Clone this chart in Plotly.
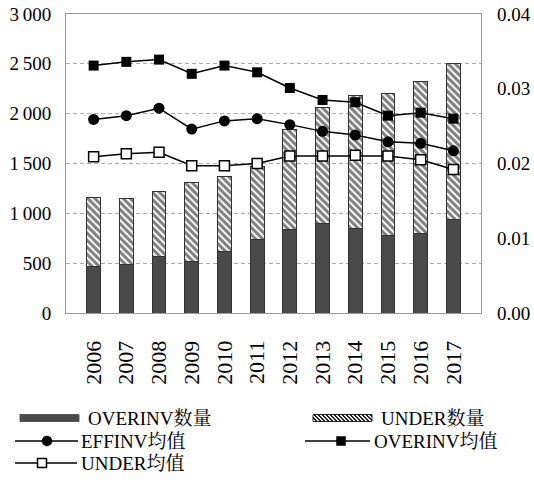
import plotly.graph_objects as go

# Annual counts and means, 2006-2017
years = ["2006", "2007", "2008", "2009", "2010", "2011",
         "2012", "2013", "2014", "2015", "2016", "2017"]
overinv_count = [470, 487, 570, 520, 613, 740, 833, 897, 847, 780, 797, 937]
under_count = [687, 660, 647, 793, 752, 725, 1004, 1160, 1333, 1427, 1530, 1570]
effinv_mean = [0.0259, 0.0264, 0.0274, 0.0246, 0.0257, 0.0260,
               0.0252, 0.0243, 0.0238, 0.0229, 0.0227, 0.0217]
overinv_mean = [0.0331, 0.0336, 0.0339, 0.0320, 0.0331, 0.0322,
                0.0301, 0.0285, 0.0282, 0.0264, 0.0268, 0.0260]
under_mean = [0.0209, 0.0213, 0.0215, 0.0197, 0.0197, 0.0200,
              0.0210, 0.0210, 0.0211, 0.0210, 0.0205, 0.0192]

FONT = "Liberation Serif, Noto Serif CJK SC, Noto Sans CJK SC, serif"
GRID = "#9a9a9a"
DARK = "#4a4a4a"

W, H = 534, 483
ML, MR, MT, MB = 66, 53, 14, 170
PW, PH = W - ML - MR, H - MT - MB


def px(x):
    """Pixel x -> paper x."""
    return (x - ML) / PW


def py(y):
    """Pixel y (from top) -> paper y."""
    return (H - MB - y) / PH


fig = go.Figure()

fig.add_trace(go.Bar(
    x=years, y=overinv_count, name="OVERINV数量",
    width=0.42, marker=dict(color=DARK, line=dict(color="#333", width=1)),
))
fig.add_trace(go.Bar(
    x=years, y=under_count, name="UNDER数量",
    width=0.42,
    marker=dict(color="white", line=dict(color="#333", width=1),
                pattern=dict(shape="\\", fgcolor="black", bgcolor="white",
                             size=5, solidity=0.6)),
))

line_style = dict(color="black", width=1.5)
fig.add_trace(go.Scatter(
    x=years, y=effinv_mean, name="EFFINV均值", yaxis="y2", mode="lines+markers",
    line=line_style, marker=dict(symbol="circle", size=11, color="black"),
))
fig.add_trace(go.Scatter(
    x=years, y=overinv_mean, name="OVERINV均值", yaxis="y2", mode="lines+markers",
    line=line_style, marker=dict(symbol="square", size=10, color="black"),
))
fig.add_trace(go.Scatter(
    x=years, y=under_mean, name="UNDER均值", yaxis="y2", mode="lines+markers",
    line=line_style,
    marker=dict(symbol="square", size=10, color="white",
                line=dict(color="black", width=1.5)),
))

# ---- legend below the chart, two columns ----
shapes = []
annotations = []


def legend_text(x, y, text):
    annotations.append(dict(
        x=px(x), y=py(y), xref="paper", yref="paper", text=text,
        showarrow=False, xanchor="left", yanchor="middle",
        font=dict(family=FONT, size=19, color="black"),
    ))


def bar_swatch(x0, x1, yc, hatched):
    y0, y1 = yc - 3.5, yc + 3.5
    shapes.append(dict(
        type="rect", xref="paper", yref="paper",
        x0=px(x0), x1=px(x1), y0=py(y1), y1=py(y0),
        fillcolor="white" if hatched else DARK,
        line=dict(color="#333" if hatched else "#555", width=1),
    ))
    if hatched:
        step = 4
        xs = x0 - (y1 - y0)
        while xs < x1:
            a0, b0 = xs, y0
            a1, b1 = xs + (y1 - y0), y1
            # clip to the swatch box
            if a0 < x0:
                b0 += x0 - a0
                a0 = x0
            if a1 > x1:
                b1 -= a1 - x1
                a1 = x1
            if a1 > a0:
                shapes.append(dict(
                    type="line", xref="paper", yref="paper",
                    x0=px(a0), y0=py(b0), x1=px(a1), y1=py(b1),
                    line=dict(color="black", width=1.3),
                ))
            xs += step


def line_swatch(x0, x1, xm, yc, kind):
    shapes.append(dict(
        type="line", xref="paper", yref="paper",
        x0=px(x0), x1=px(x1), y0=py(yc), y1=py(yc),
        line=dict(color="black", width=1.5),
    ))
    r = 5 if kind == "circle" else 4.5
    shapes.append(dict(
        type="circle" if kind == "circle" else "rect",
        xref="paper", yref="paper",
        x0=px(xm - r), x1=px(xm + r), y0=py(yc + r), y1=py(yc - r),
        fillcolor="white" if kind == "open" else "black",
        line=dict(color="black", width=1.5 if kind == "open" else 0.5),
    ))


names = [t.name for t in fig.data]
bar_swatch(20, 79, 418, hatched=False)
legend_text(86, 418, names[0])
bar_swatch(313, 372, 418, hatched=True)
legend_text(379, 418, names[1])
line_swatch(15, 78, 47, 441, "circle")
legend_text(79, 441, names[2])
line_swatch(305, 370, 341, 441, "square")
legend_text(372, 441, names[3])
line_swatch(15, 77, 42, 463, "open")
legend_text(79, 463, names[4])

fig.update_layout(
    width=W, height=H,
    margin=dict(l=ML, r=MR, t=MT, b=MB, autoexpand=False),
    paper_bgcolor="white", plot_bgcolor="white",
    font=dict(family=FONT, size=19, color="black"),
    barmode="stack", bargap=0.58,
    separators=".\u2009",
    showlegend=False,
    shapes=shapes, annotations=annotations,
    xaxis=dict(
        type="category", tickangle=-90, showgrid=False,
        showline=True, linecolor=GRID, linewidth=1, mirror=True,
        ticks="", ticklabelstandoff=18, automargin=False,
        tickfont=dict(family=FONT, size=22),
    ),
    yaxis=dict(
        range=[0, 3000], dtick=500, separatethousands=True,
        showgrid=True, gridcolor="#aaaaaa", griddash="4px,3px", gridwidth=1,
        showline=True, linecolor=GRID, linewidth=1, mirror=True,
        ticks="", ticklabelstandoff=10, zeroline=False, automargin=False,
        tickfont=dict(family=FONT, size=19),
    ),
    yaxis2=dict(
        range=[0, 0.04], dtick=0.01, tickformat=".2f",
        overlaying="y", side="right", showgrid=False, zeroline=False,
        showline=False, ticks="", ticklabelstandoff=15, automargin=False,
        tickfont=dict(family=FONT, size=19),
    ),
)

fig.write_html("out.html")
